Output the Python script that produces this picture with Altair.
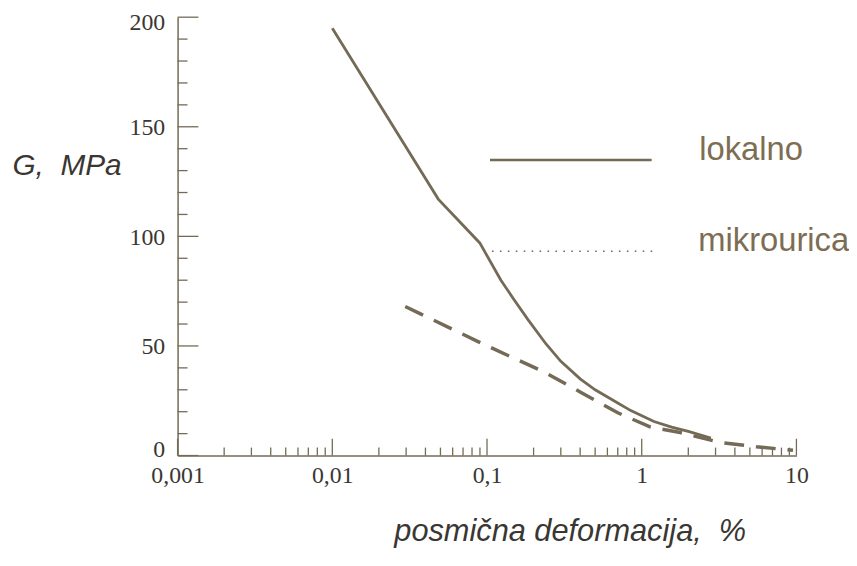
import altair as alt
import pandas as pd

# --- data ---
strain_lokalno = [0.01, 0.0484, 0.0898, 0.123, 0.15, 0.184, 0.24, 0.3, 0.4, 0.5, 0.7, 0.85, 1.2, 1.56, 2.0, 2.8]
g_lokalno = [195, 117, 97, 80, 71, 62, 51, 43, 35, 30, 24, 20.5, 15.5, 13, 11, 8]

strain_mikro = [0.0296, 0.0875, 0.143, 0.236, 0.4, 0.7, 1.14, 1.77, 3.2, 5.5, 9.5]
g_mikro = [68, 52, 45, 38, 29, 19.5, 13, 10.5, 6, 4, 2.4]

x_major = [0.001, 0.01, 0.1, 1, 10]
x_minor = [m * d for d in [0.001, 0.01, 0.1, 1] for m in range(2, 10)]
y_major = [0, 50, 100, 150, 200]
y_minor = [v for v in range(10, 200, 10) if v % 50 != 0]

W, H = 624, 442
LINE = "#746a56"
TXT = "#3a3733"
LEG = "#7d6d52"

xs = alt.Scale(type="log", domain=[0.001, 10], nice=False)
ys = alt.Scale(domain=[0, 200], nice=False)

df_lok = pd.DataFrame({"x": strain_lokalno, "g": g_lokalno})
df_mik = pd.DataFrame({"x": strain_mikro, "g": g_mikro})

x_axis = alt.Axis(
    values=x_major, tickSize=0, grid=False, domainColor=LINE, domainWidth=1.5,
    labelExpr="replace(toString(datum.value), '.', ',')",
    labelFont="Liberation Serif", labelFontSize=24, labelColor=TXT, labelPadding=8,
    title="posmična deformacija,\u00a0 %", titleFont="Liberation Sans", titleFontStyle="italic",
    titleFontWeight="normal", titleFontSize=31, titleColor=TXT, titleAlign="left",
    titleBaseline="middle", titleX=218, titleY=77, labelFlush=False, labelOverlap=False,
)
y_axis = alt.Axis(
    values=y_major, tickSize=0, grid=False, domainColor=LINE, domainWidth=1.5,
    labelFont="Liberation Serif", labelFontSize=24, labelColor=TXT, labelPadding=13,
    labelOffset={"condition": [{"test": "datum.value == 200", "value": 5},
                               {"test": "datum.value == 0", "value": -6}], "value": 1},
    title="G,\u00a0 MPa", titleFont="Liberation Sans", titleFontStyle="italic",
    titleFontWeight="normal", titleFontSize=30, titleColor=TXT, titleAngle=0,
    titleAlign="left", titleBaseline="middle", titleX=-167, titleY=150,
    labelFlush=False, labelOverlap=False,
)

lok = alt.Chart(df_lok).mark_line(color=LINE, strokeWidth=2.8).encode(
    x=alt.X("x:Q", scale=xs, axis=x_axis),
    y=alt.Y("g:Q", scale=ys, axis=y_axis),
)
mik = alt.Chart(df_mik).mark_line(color=LINE, strokeWidth=3.5, strokeDash=[20, 12]).encode(
    x=alt.X("x:Q", scale=xs, axis=x_axis),
    y=alt.Y("g:Q", scale=ys, axis=y_axis),
)

# inward ticks
xmaj = alt.Chart(pd.DataFrame({"x": x_major})).mark_rule(color=LINE, strokeWidth=1.3).encode(
    x=alt.X("x:Q", scale=xs, axis=x_axis), y=alt.value(H), y2=alt.value(H - 17))
xmin = alt.Chart(pd.DataFrame({"x": x_minor})).mark_rule(color=LINE, strokeWidth=1.3).encode(
    x=alt.X("x:Q", scale=xs, axis=x_axis), y=alt.value(H), y2=alt.value(H - 8))
ymaj = alt.Chart(pd.DataFrame({"g": y_major})).mark_rule(color=LINE, strokeWidth=1.3).encode(
    y=alt.Y("g:Q", scale=ys, axis=y_axis), x=alt.value(0), x2=alt.value(21))
ymin = alt.Chart(pd.DataFrame({"g": y_minor})).mark_rule(color=LINE, strokeWidth=1.3).encode(
    y=alt.Y("g:Q", scale=ys, axis=y_axis), x=alt.value(0), x2=alt.value(10))

# legend
leg1 = alt.Chart(df_lok.head(1)).mark_rule(color=LINE, strokeWidth=2.5).encode(
    x=alt.value(315), x2=alt.value(478), y=alt.value(144))
leg2 = alt.Chart(df_lok.head(1)).mark_rule(color=LINE, strokeWidth=1.6, strokeDash=[1.6, 6.4]).encode(
    x=alt.value(317), x2=alt.value(480), y=alt.value(236))
t1 = alt.Chart(df_lok.head(1)).mark_text(
    text="lokalno", font="Liberation Sans", fontSize=33, color=LEG, align="left", baseline="middle"
).encode(x=alt.value(526), y=alt.value(134))
t2 = alt.Chart(df_lok.head(1)).mark_text(
    text="mikrourica", font="Liberation Sans", fontSize=33, color=LEG, align="left", baseline="middle"
).encode(x=alt.value(525), y=alt.value(226))

chart = alt.layer(lok, mik, xmaj, xmin, ymaj, ymin, leg1, leg2, t1, t2).properties(
    width=W, height=H,
    background="white",
    autosize=alt.AutoSizeParams(type="none"),
    padding={"left": 171, "top": 7, "right": 53, "bottom": 95},
).configure_view(strokeWidth=0)

chart.save("out.html", embed_options={"renderer": "svg", "actions": False})
